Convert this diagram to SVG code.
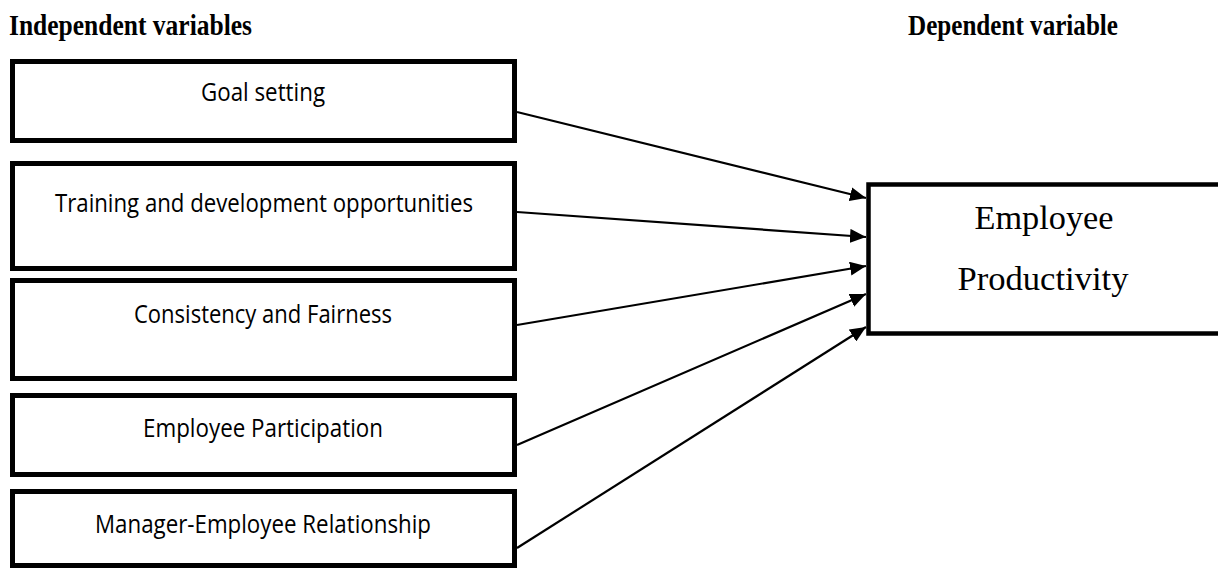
<svg xmlns="http://www.w3.org/2000/svg" width="1218" height="568" viewBox="0 0 1218 568">
  <style>
    .box { fill: #ffffff; stroke: #000000; stroke-width: 5; }
    .hdr { font-family: "Liberation Serif", "Times New Roman", serif; font-weight: bold; font-size: 29px; fill: #000; }
    .lbl { font-family: "Open Sans", "Liberation Sans", sans-serif; font-size: 26px; fill: #000; text-anchor: middle; }
    .out { font-family: "Liberation Serif", "Times New Roman", serif; font-size: 33px; fill: #000; text-anchor: middle; }
    .edge { stroke: #000000; stroke-width: 2.2; fill: none; marker-end: url(#head); }
  </style>
  <defs>
    <marker id="head" markerUnits="userSpaceOnUse" markerWidth="18" markerHeight="14" refX="16" refY="7" orient="auto">
      <path d="M0,0 L16,7 L0,14 Z" fill="#000000"/>
    </marker>
  </defs>
  <rect width="1218" height="568" fill="#ffffff"/>

  <!-- column headings -->
  <text class="hdr" x="9" y="35" textLength="243" lengthAdjust="spacingAndGlyphs">Independent variables</text>
  <text class="hdr" x="908" y="35" textLength="210" lengthAdjust="spacingAndGlyphs">Dependent variable</text>

  <!-- independent variables -->
  <g id="goal-setting">
    <rect class="box" x="12.5" y="61.5" width="502" height="79"/>
    <text class="lbl" x="263" y="101" textLength="124" lengthAdjust="spacingAndGlyphs">Goal setting</text>
  </g>
  <g id="training">
    <rect class="box" x="12.5" y="163.5" width="502" height="105"/>
    <text class="lbl" x="264" y="212" textLength="418" lengthAdjust="spacingAndGlyphs">Training and development opportunities</text>
  </g>
  <g id="consistency">
    <rect class="box" x="12.5" y="280.5" width="502" height="98"/>
    <text class="lbl" x="263" y="323" textLength="258" lengthAdjust="spacingAndGlyphs">Consistency and Fairness</text>
  </g>
  <g id="participation">
    <rect class="box" x="12.5" y="395.5" width="502" height="79"/>
    <text class="lbl" x="263" y="437" textLength="240" lengthAdjust="spacingAndGlyphs">Employee Participation</text>
  </g>
  <g id="relationship">
    <rect class="box" x="12.5" y="491.5" width="502" height="74"/>
    <text class="lbl" x="263" y="533" textLength="336" lengthAdjust="spacingAndGlyphs">Manager-Employee Relationship</text>
  </g>

  <!-- dependent variable -->
  <g id="productivity">
    <rect class="box" x="868.5" y="184.5" width="360" height="149" style="stroke-width:4.5"/>
    <text class="out" x="1044" y="229" textLength="139" lengthAdjust="spacingAndGlyphs">Employee</text>
    <text class="out" x="1043" y="290" textLength="171" lengthAdjust="spacingAndGlyphs">Productivity</text>
  </g>

  <!-- connectors -->
  <g id="connectors">
    <line class="edge" x1="517" y1="112" x2="866" y2="198"/>
    <line class="edge" x1="517" y1="212" x2="866" y2="237"/>
    <line class="edge" x1="517" y1="325" x2="866" y2="266"/>
    <line class="edge" x1="517" y1="445" x2="866" y2="294"/>
    <line class="edge" x1="517" y1="548" x2="866" y2="327"/>
  </g>
</svg>
